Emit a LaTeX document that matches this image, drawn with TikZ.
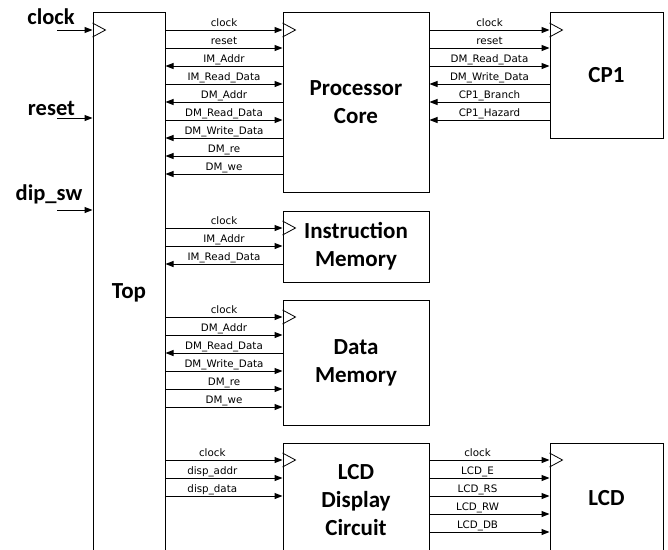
\documentclass[tikz,border=0pt]{standalone}
\usepackage{fontspec}
\newfontfamily\blkfont{Carlito}
\newfontfamily\sigfont{DejaVu Sans}
\usetikzlibrary{arrows.meta}
\tikzset{
    >={Triangle[length=8pt,width=6pt]},
    blk/.style={draw,line width=1pt,inner sep=0pt,align=center,
        font=\blkfont\bfseries\fontsize{23}{28}\selectfont},
    sig/.style={line width=1pt},
    lbl/.style={midway,above,inner sep=1.2pt,text height=7.5pt,text depth=2pt,
        font=\sigfont\fontsize{10.3}{11}\selectfont},
    pinlbl/.style={anchor=base,inner sep=0pt,
        font=\blkfont\bfseries\fontsize{22.5}{26}\selectfont}
}
% clock mark on a block edge
\newcommand{\clk}[1]{\draw[line width=0.8pt] (#1) ++(0,-7) -- ++(13,7) -- ++(-13,7);}

\begin{document}
\begin{tikzpicture}[x=1pt,y=-1pt]
\useasboundingbox (0,0) rectangle (668,549);

% Blocks
\node[blk,minimum width=72pt,minimum height=562pt] (top) at (129,293) {Top};
\node[blk,minimum width=146pt,minimum height=180pt] (core) at (356,102) {Processor\\Core};
\node[blk,minimum width=113pt,minimum height=126pt] (cp1) at (606.5,75) {CP1};
\node[blk,minimum width=146pt,minimum height=71pt] (imem) at (356,246.5) {Instruction\\Memory};
\node[blk,minimum width=146pt,minimum height=125pt] (dmem) at (356,362.5) {Data\\Memory};
\node[blk,minimum width=146pt,minimum height=114pt] (lcdc) at (356,500) {LCD\\Display\\Circuit};
\node[blk,minimum width=113pt,minimum height=110pt] (lcd) at (606.5,498) {LCD};

% Clock marks
\clk{top.west |- 0,30}
\clk{core.west |- 0,30}
\clk{cp1.west |- 0,30}
\clk{imem.west |- 0,228}
\clk{dmem.west |- 0,317}
\clk{lcdc.west |- 0,460}
\clk{lcd.west |- 0,460}

% External inputs
\coordinate (clkin) at (57,30);
\coordinate (rstin) at (57,118);
\coordinate (swin) at (57,210);
\node[pinlbl] (clklbl) at (51,24) {clock};
\node[pinlbl] (rstlbl) at (51.5,115) {reset};
\node[pinlbl] (swlbl) at (49,200) {dip\_sw};
\draw[sig,->] (clkin) -- (top.west |- clkin);
\draw[sig,->] (rstin) -- (top.west |- rstin);
\draw[sig,->] (swin) -- (top.west |- swin);

% Top <-> Processor Core
\draw[sig,->] (top.east |- 0,30) -- (core.west |- 0,30) node[lbl] {clock};
\draw[sig,->] (top.east |- 0,48) -- (core.west |- 0,48) node[lbl] {reset};
\draw[sig,<-] (top.east |- 0,66) -- (core.west |- 0,66) node[lbl] {IM\_Addr};
\draw[sig,->] (top.east |- 0,84) -- (core.west |- 0,84) node[lbl] {IM\_Read\_Data};
\draw[sig,<-] (top.east |- 0,102) -- (core.west |- 0,102) node[lbl] {DM\_Addr};
\draw[sig,->] (top.east |- 0,120) -- (core.west |- 0,120) node[lbl] {DM\_Read\_Data};
\draw[sig,<-] (top.east |- 0,138) -- (core.west |- 0,138) node[lbl] {DM\_Write\_Data};
\draw[sig,<-] (top.east |- 0,156) -- (core.west |- 0,156) node[lbl] {DM\_re};
\draw[sig,<-] (top.east |- 0,174) -- (core.west |- 0,174) node[lbl] {DM\_we};

% Processor Core <-> CP1
\draw[sig,->] (core.east |- 0,30) -- (cp1.west |- 0,30) node[lbl] {clock};
\draw[sig,->] (core.east |- 0,48) -- (cp1.west |- 0,48) node[lbl] {reset};
\draw[sig,->] (core.east |- 0,66) -- (cp1.west |- 0,66) node[lbl] {DM\_Read\_Data};
\draw[sig,<-] (core.east |- 0,84) -- (cp1.west |- 0,84) node[lbl] {DM\_Write\_Data};
\draw[sig,<-] (core.east |- 0,102) -- (cp1.west |- 0,102) node[lbl] {CP1\_Branch};
\draw[sig,<-] (core.east |- 0,120) -- (cp1.west |- 0,120) node[lbl] {CP1\_Hazard};

% Top <-> Instruction Memory
\draw[sig,->] (top.east |- 0,228) -- (imem.west |- 0,228) node[lbl] {clock};
\draw[sig,->] (top.east |- 0,246) -- (imem.west |- 0,246) node[lbl] {IM\_Addr};
\draw[sig,<-] (top.east |- 0,264) -- (imem.west |- 0,264) node[lbl] {IM\_Read\_Data};

% Top <-> Data Memory
\draw[sig,->] (top.east |- 0,317) -- (dmem.west |- 0,317) node[lbl] {clock};
\draw[sig,->] (top.east |- 0,335) -- (dmem.west |- 0,335) node[lbl] {DM\_Addr};
\draw[sig,<-] (top.east |- 0,353) -- (dmem.west |- 0,353) node[lbl] {DM\_Read\_Data};
\draw[sig,->] (top.east |- 0,371) -- (dmem.west |- 0,371) node[lbl] {DM\_Write\_Data};
\draw[sig,->] (top.east |- 0,389) -- (dmem.west |- 0,389) node[lbl] {DM\_re};
\draw[sig,->] (top.east |- 0,407) -- (dmem.west |- 0,407) node[lbl] {DM\_we};

% Top -> LCD Display Circuit
\draw[sig,->] (top.east |- 0,460) -- (lcdc.west |- 0,460) node[lbl,pos=0.4] {clock};
\draw[sig,->] (top.east |- 0,478) -- (lcdc.west |- 0,478) node[lbl,pos=0.4] {disp\_addr};
\draw[sig,->] (top.east |- 0,496) -- (lcdc.west |- 0,496) node[lbl,pos=0.4] {disp\_data};

% LCD Display Circuit -> LCD
\draw[sig,->] (lcdc.east |- 0,460) -- (lcd.west |- 0,460) node[lbl,pos=0.4] {clock};
\draw[sig,->] (lcdc.east |- 0,478) -- (lcd.west |- 0,478) node[lbl,pos=0.4] {LCD\_E};
\draw[sig,->] (lcdc.east |- 0,496) -- (lcd.west |- 0,496) node[lbl,pos=0.4] {LCD\_RS};
\draw[sig,->] (lcdc.east |- 0,514) -- (lcd.west |- 0,514) node[lbl,pos=0.4] {LCD\_RW};
\draw[sig,->] (lcdc.east |- 0,532) -- (lcd.west |- 0,532) node[lbl,pos=0.4] {LCD\_DB};

\end{tikzpicture}
\end{document}
